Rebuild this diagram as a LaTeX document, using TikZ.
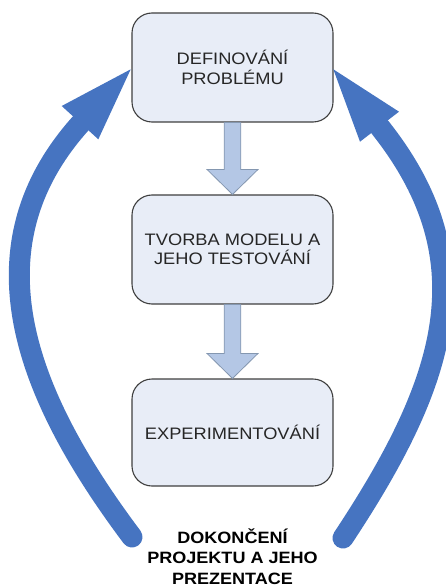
\documentclass[tikz,border=0pt]{standalone}
\usepackage{fontspec}
\setmainfont{Liberation Sans}[FakeStretch=1.1]
\usetikzlibrary{calc}

\definecolor{boxfill}{HTML}{E8EDF7}
\definecolor{boxline}{HTML}{3F3F3F}
\definecolor{flowfill}{HTML}{B4C7E5}
\definecolor{flowline}{HTML}{8497B0}
\definecolor{loopblue}{HTML}{4674C1}
\definecolor{textgray}{HTML}{262626}

% downward block arrow from the bottom of one stage to the top of the next
\newcommand\flowarrow[2]{%
  \draw[flow] ($(#1.south)+(-8.3,0)$) -- ($(#2.north)+(-8.3,-25)$)
    -- ($(#2.north)+(-25.5,-25)$) -- (#2.north)
    -- ($(#2.north)+(25.5,-25)$) -- ($(#2.north)+(8.3,-25)$)
    -- ($(#1.south)+(8.3,0)$) -- cycle;}

\begin{document}
\begin{tikzpicture}[x=1pt,y=-1pt,
  stage/.style={draw=boxline, line width=1.1pt, fill=boxfill,
    rounded corners=20pt, minimum width=201pt, minimum height=109pt,
    inner sep=0pt, align=center, text=textgray,
    font=\fontsize{16.6}{19.5}\selectfont},
  flow/.style={draw=flowline, line width=0.8pt, fill=flowfill, line join=miter},
  loop/.style={draw=loopblue, line width=21pt, line cap=round},
  loophead/.style={fill=loopblue},
  finish/.style={align=center, inner sep=0pt,
    font=\bfseries\fontsize{16.4}{20.5}\selectfont}]
\useasboundingbox (0,0) rectangle (446,585);

% stages
\node[stage] (def) at (232.5,67.5) {DEFINOVÁNÍ\\PROBLÉMU};
\node[stage] (model) at (232.5,249.5) {TVORBA MODELU A\\JEHO TESTOVÁNÍ};
\node[stage, minimum height=107pt] (exp) at (232.5,432.5) {EXPERIMENTOVÁNÍ};
\node[finish, anchor=north] (end) at (232.5,528.5)
  {DOKONČENÍ\\PROJEKTU A JEHO\\PREZENTACE};

% flow between stages
\flowarrow{def}{model}
\flowarrow{model}{exp}

% left loop back to the first stage
\coordinate (Lstart) at (132,537);
\coordinate (Lbase) at (80.3,123.8);
\coordinate (Ltip) at (130.7,69.3);
\coordinate (Lback1) at (61.7,106);
\coordinate (Lback2) at (98.3,139.3);
\draw[loop] (Lstart) .. controls (27,397) and (-32.7,250.3) .. (Lbase);
\fill[loophead] (Ltip) -- (Lback1) -- (Lback2) -- cycle;

% right loop back to the first stage
\coordinate (Rstart) at (343,538);
\coordinate (Rbase) at (380,127.3);
\coordinate (Rtip) at (333.3,69.3);
\coordinate (Rback1) at (399,111.7);
\coordinate (Rback2) at (360,141.7);
\draw[loop] (Rstart) .. controls (447.5,380.3) and (485.4,259.9) .. (Rbase);
\fill[loophead] (Rtip) -- (Rback1) -- (Rback2) -- cycle;
\end{tikzpicture}
\end{document}
